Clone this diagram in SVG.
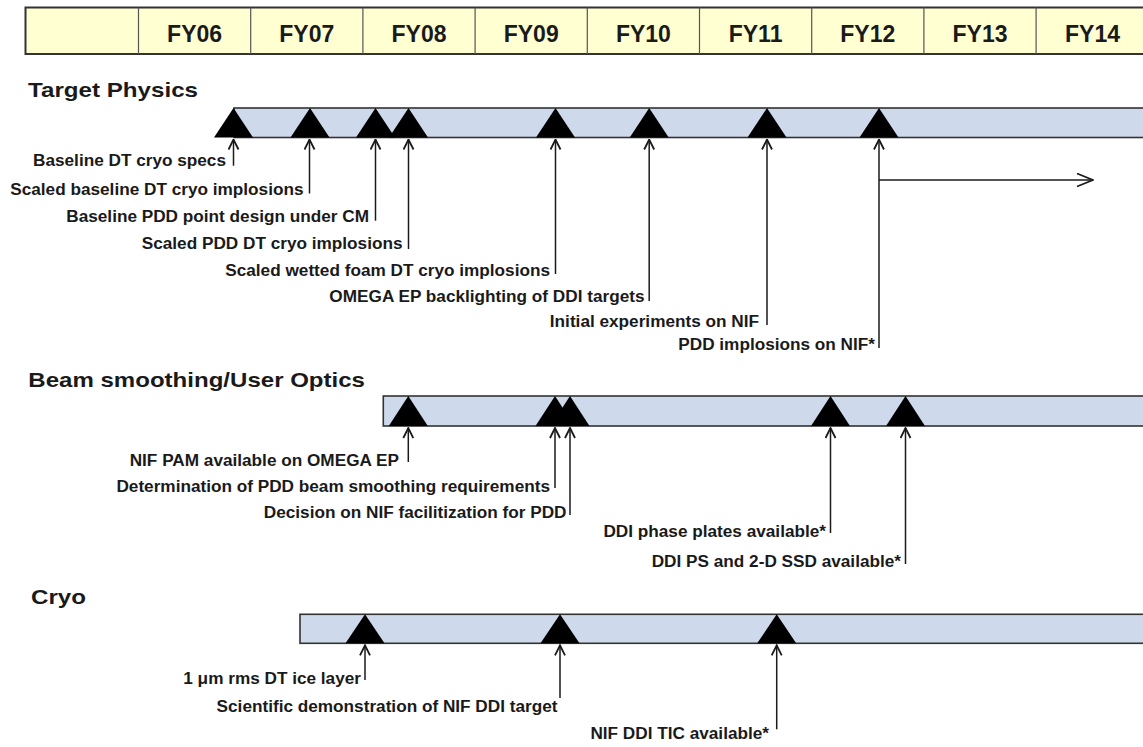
<svg xmlns="http://www.w3.org/2000/svg" width="1143" height="747" viewBox="0 0 1143 747">
<style>
  .hdr { fill: #FFFFD2; stroke: #333; stroke-width: 2; }
  .div { stroke: #555; stroke-width: 1.2; }
  .fy { font-family: "Liberation Sans", Arial, sans-serif; font-weight: bold; font-size: 23px; fill: #1a1a1a; text-anchor: middle; }
  .head { font-family: "Liberation Sans", Arial, sans-serif; font-weight: bold; font-size: 21px; fill: #1a1a1a; }
  .bar { fill: #CEDAEB; stroke: #333; stroke-width: 1.6; }
  .tri { fill: #000; }
  .lbl { font-family: "Liberation Sans", Arial, sans-serif; font-weight: bold; font-size: 17.2px; fill: #1a1a1a; text-anchor: end; }
  .conn line, .conn path { stroke: #1a1a1a; stroke-width: 1.5; fill: none; }
</style>
<defs>
  <marker id="up" viewBox="0 0 12 12" refX="11" refY="6" markerWidth="12" markerHeight="12" markerUnits="userSpaceOnUse" orient="auto">
    <path d="M1,1 L11,6 L1,11" fill="none" stroke="#1a1a1a" stroke-width="1.8"/>
  </marker>
  <marker id="big" viewBox="0 0 18 15" refX="17" refY="7.5" markerWidth="18" markerHeight="15" markerUnits="userSpaceOnUse" orient="auto">
    <path d="M1,1 L17,7.5 L1,14" fill="none" stroke="#1a1a1a" stroke-width="1.7"/>
  </marker>
</defs>
<rect width="1143" height="747" fill="#fff"/>

<g id="header">
  <rect class="hdr" x="25.5" y="7.5" width="1130" height="46.5"/>
  <line class="div" x1="138.5" y1="7.5" x2="138.5" y2="54"/>
  <line class="div" x1="250.7" y1="7.5" x2="250.7" y2="54"/>
  <line class="div" x1="362.9" y1="7.5" x2="362.9" y2="54"/>
  <line class="div" x1="475.1" y1="7.5" x2="475.1" y2="54"/>
  <line class="div" x1="587.3" y1="7.5" x2="587.3" y2="54"/>
  <line class="div" x1="699.5" y1="7.5" x2="699.5" y2="54"/>
  <line class="div" x1="811.7" y1="7.5" x2="811.7" y2="54"/>
  <line class="div" x1="923.9" y1="7.5" x2="923.9" y2="54"/>
  <line class="div" x1="1036.1" y1="7.5" x2="1036.1" y2="54"/>
  <text class="fy" x="194.6" y="42">FY06</text>
  <text class="fy" x="306.8" y="42">FY07</text>
  <text class="fy" x="419" y="42">FY08</text>
  <text class="fy" x="531.2" y="42">FY09</text>
  <text class="fy" x="643.4" y="42">FY10</text>
  <text class="fy" x="755.6" y="42">FY11</text>
  <text class="fy" x="867.8" y="42">FY12</text>
  <text class="fy" x="980" y="42">FY13</text>
  <text class="fy" x="1092.5" y="42">FY14</text>
</g>

<g id="target-physics">
  <text class="head" x="28" y="97" textLength="170" lengthAdjust="spacingAndGlyphs">Target Physics</text>
  <rect class="bar" x="234" y="108" width="920" height="29.5"/>
  <polygon class="tri" points="233.5,108 214,137.5 253,137.5"/>
  <polygon class="tri" points="310,108 290.5,137.5 329.5,137.5"/>
  <polygon class="tri" points="375.5,108 356,137.5 395,137.5"/>
  <polygon class="tri" points="408.5,108 389,137.5 428,137.5"/>
  <polygon class="tri" points="555.5,108 536,137.5 575,137.5"/>
  <polygon class="tri" points="649.2,108 629.7,137.5 668.7,137.5"/>
  <polygon class="tri" points="767,108 747.5,137.5 786.5,137.5"/>
  <polygon class="tri" points="879,108 859.5,137.5 898.5,137.5"/>
</g>
<g id="tp-labels">
  <text id="tp1" class="lbl" x="226" y="165.7">Baseline DT cryo specs</text>
  <text id="tp2" class="lbl" x="303.5" y="195">Scaled baseline DT cryo implosions</text>
  <text id="tp3" class="lbl" x="369" y="221.7">Baseline PDD point design under CM</text>
  <text id="tp4" class="lbl" x="402.5" y="249.3">Scaled PDD DT cryo implosions</text>
  <text id="tp5" class="lbl" x="550" y="275.5">Scaled wetted foam DT cryo implosions</text>
  <text id="tp6" class="lbl" x="644.5" y="301.7">OMEGA EP backlighting of DDI targets</text>
  <text id="tp7" class="lbl" x="759" y="326.7">Initial experiments on NIF</text>
  <text id="tp8" class="lbl" x="875" y="350">PDD implosions on NIF*</text>
</g>

<g id="beam-smoothing">
  <text class="head" x="28.3" y="387.3" textLength="336.7" lengthAdjust="spacingAndGlyphs">Beam smoothing/User Optics</text>
  <rect class="bar" x="383.3" y="396" width="770" height="30"/>
  <polygon class="tri" points="408.3,396 388.8,426 427.8,426"/>
  <polygon class="tri" points="555,396 535.5,426 574.5,426"/>
  <polygon class="tri" points="570,396 550.5,426 589.5,426"/>
  <polygon class="tri" points="830.5,396 811,426 850,426"/>
  <polygon class="tri" points="905.5,396 886,426 925,426"/>
</g>
<g id="bs-labels">
  <text id="bs1" class="lbl" x="399" y="466">NIF PAM available on OMEGA EP</text>
  <text id="bs2" class="lbl" x="550" y="491.5">Determination of PDD beam smoothing requirements</text>
  <text id="bs3" class="lbl" x="566.5" y="518">Decision on NIF facilitization for PDD</text>
  <text id="bs4" class="lbl" x="826" y="536.7">DDI phase plates available*</text>
  <text id="bs5" class="lbl" x="901" y="566.7">DDI PS and 2-D SSD available*</text>
</g>

<g id="cryo">
  <text class="head" x="31" y="604" textLength="55" lengthAdjust="spacingAndGlyphs">Cryo</text>
  <rect class="bar" x="300" y="614.3" width="853" height="29"/>
  <polygon class="tri" points="365,614.3 345.5,643.3 384.5,643.3"/>
  <polygon class="tri" points="560,614.3 540.5,643.3 579.5,643.3"/>
  <polygon class="tri" points="776.7,614.3 757.2,643.3 796.2,643.3"/>
</g>
<g id="cryo-labels">
  <text id="cr1" class="lbl" x="361" y="684.3">1 μm rms DT ice layer</text>
  <text id="cr2" class="lbl" x="557.5" y="711.7">Scientific demonstration of NIF DDI target</text>
  <text id="cr3" class="lbl" x="769" y="739.3">NIF DDI TIC available*</text>
</g>

<g id="connectors" class="conn">
  <line x1="233.5" y1="165.7" x2="233.5" y2="139.5" marker-end="url(#up)"/>
  <line x1="309.5" y1="193.5" x2="309.5" y2="139.5" marker-end="url(#up)"/>
  <line x1="375.5" y1="220.7" x2="375.5" y2="139.5" marker-end="url(#up)"/>
  <line x1="408.5" y1="249" x2="408.5" y2="139.5" marker-end="url(#up)"/>
  <line x1="555.5" y1="274" x2="555.5" y2="139.5" marker-end="url(#up)"/>
  <line x1="649.2" y1="301" x2="649.2" y2="139.5" marker-end="url(#up)"/>
  <line x1="767" y1="325" x2="767" y2="139.5" marker-end="url(#up)"/>
  <line x1="879" y1="348" x2="879" y2="139.5" marker-end="url(#up)"/>
  <line x1="879" y1="180" x2="1093" y2="180" marker-end="url(#big)"/>

  <line x1="408.3" y1="462" x2="408.3" y2="428" marker-end="url(#up)"/>
  <line x1="555" y1="488" x2="555" y2="428" marker-end="url(#up)"/>
  <line x1="570" y1="515" x2="570" y2="428" marker-end="url(#up)"/>
  <line x1="830.5" y1="533" x2="830.5" y2="428" marker-end="url(#up)"/>
  <line x1="905.5" y1="564" x2="905.5" y2="428" marker-end="url(#up)"/>

  <line x1="365" y1="680" x2="365" y2="645.3" marker-end="url(#up)"/>
  <line x1="560" y1="698" x2="560" y2="645.3" marker-end="url(#up)"/>
  <line x1="776.7" y1="729.3" x2="776.7" y2="645.3" marker-end="url(#up)"/>
</g>
</svg>
